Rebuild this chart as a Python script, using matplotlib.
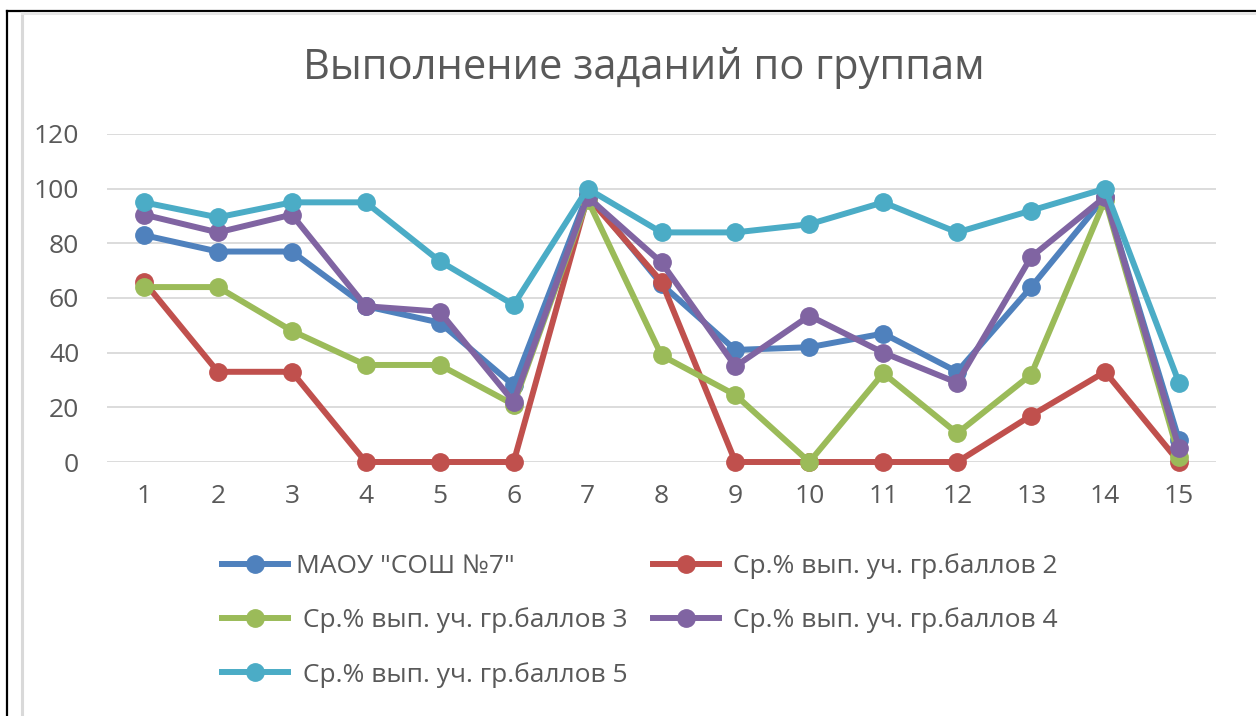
import matplotlib.pyplot as plt
from matplotlib.lines import Line2D

plt.rcParams['font.family'] = ['Open Sans', 'DejaVu Sans']

# Data
tasks = list(range(1, 16))
school = [83, 77, 77, 57, 51, 28, 98, 65, 41, 42, 47, 33, 64, 97, 8]
grade2 = [66, 33, 33, 0, 0, 0, 97, 66, 0, 0, 0, 0, 17, 33, 0]
grade3 = [64, 64, 48, 35.5, 35.5, 21, 96, 39, 24.5, 0, 32.5, 10.5, 32, 96, 2]
grade4 = [90.5, 84, 90.5, 57, 55, 22, 97, 73, 35, 53.5, 40, 29, 75, 97, 5]
grade5 = [95, 89.5, 95, 95, 73.5, 57.5, 100, 84, 84, 87, 95, 84, 92, 100, 29]
labels = ['МАОУ "СОШ №7"', ' Ср.% вып. уч. гр.баллов 2', ' Ср.% вып. уч. гр.баллов 3',
          ' Ср.% вып. уч. гр.баллов 4', ' Ср.% вып. уч. гр.баллов 5']
colors = ['#4F81BD', '#C0504D', '#9BBB59', '#8064A2', '#4BACC6']
yticks = [0, 20, 40, 60, 80, 100, 120]

fig = plt.figure(figsize=(12.56, 7.16), dpi=100)
ax = fig.add_axes([107 / 1256, 1 - 462 / 716, (1216 - 107) / 1256, (462 - 134) / 716])

lines = []
for vals, lab, c in zip([school, grade2, grade3, grade4, grade5], labels, colors):
    ln, = ax.plot(tasks, vals, color=c, lw=4.3, marker='o', markersize=12.5,
                  label=lab, clip_on=False, solid_joinstyle='round')
    lines.append(ln)

ax.set_xlim(0.5, 15.5)
ax.set_ylim(0, 120)
ax.set_xticks(tasks)
ax.set_yticks(yticks)
ax.tick_params(length=0, labelsize=19, colors='#595959')
ax.tick_params(axis='x', pad=16)
ax.tick_params(axis='y', pad=20)
ax.grid(axis='y', color='#D9D9D9', lw=1.3)
ax.set_axisbelow(True)
for s in ax.spines.values():
    s.set_visible(False)

fig.text(0.5 * (303 + 985) / 1256, 1 - 68 / 716, 'Выполнение заданий по группам',
         ha='center', va='center', fontsize=30, color='#595959')

# legend filled row by row like the original
order = [0, 2, 4, 1, 3]
leg = fig.legend([lines[i] for i in order], [labels[i] for i in order],
                 loc='upper left', bbox_to_anchor=(222 / 1256, 1 - 553 / 716), ncol=2,
                 frameon=False, fontsize=19, handlelength=2.5, handletextpad=0.3,
                 columnspacing=0.95, labelspacing=1.08, borderaxespad=0, borderpad=0)
for t in leg.get_texts():
    t.set_color('#595959')

# chart frame
fig.add_artist(Line2D([7 / 1256, 7 / 1256], [0, 1 - 11 / 716], color='black', lw=1.6))
fig.add_artist(Line2D([7 / 1256, 1], [1 - 11 / 716, 1 - 11 / 716], color='black', lw=1.6))
fig.add_artist(Line2D([22 / 1256, 22 / 1256], [0, 1 - 13 / 716], color='#D9D9D9', lw=2.2))
fig.add_artist(Line2D([22 / 1256, 1], [1 - 13 / 716, 1 - 13 / 716], color='#E6E6E6', lw=2.2))

fig.savefig('out.png', dpi=100)
